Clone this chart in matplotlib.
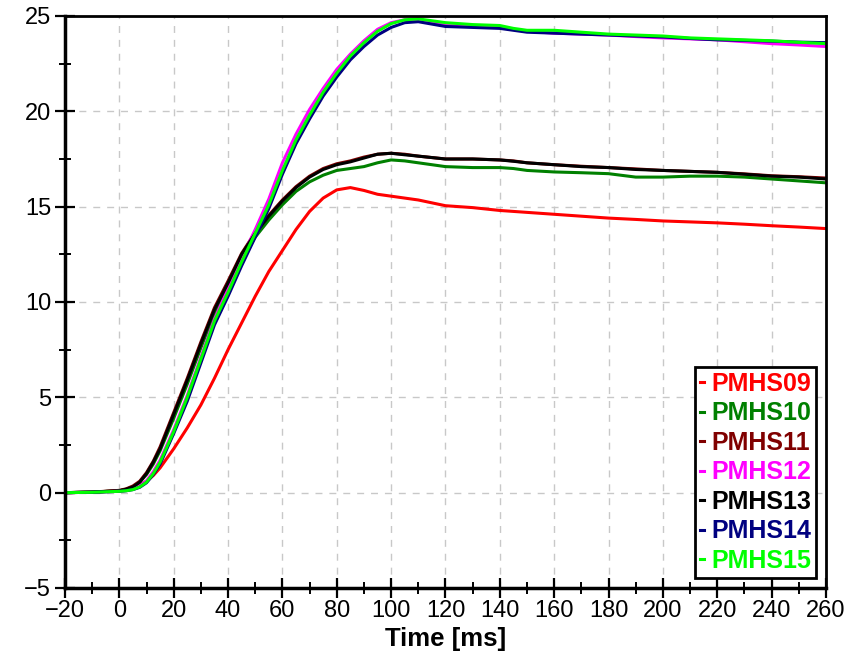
import numpy as np
import matplotlib.pyplot as plt
from matplotlib.ticker import MultipleLocator

# sample times (ms) and curves
t = [-20, -10, 0, 2.5, 5, 7.5, 10, 12.5, 15, 20, 25, 30, 35, 40, 45, 50, 55, 60, 65, 70, 75, 80, 85, 90, 95,
     100, 105, 110, 120, 130, 140, 145, 150, 160, 170, 180, 190, 200, 210, 220, 230, 240, 250, 260]

pmhs09 = [0.0, 0.02, 0.1, 0.16, 0.26, 0.4, 0.6, 0.9, 1.3, 2.3, 3.4, 4.6, 6.0, 7.5, 8.9, 10.3, 11.6, 12.7, 13.8, 14.75, 15.45, 15.88, 16.0, 15.85, 15.65,
          15.55, 15.45, 15.35, 15.05, 14.95, 14.8, 14.75, 14.7, 14.6, 14.5, 14.4, 14.33, 14.25, 14.2, 14.15, 14.08, 14.0, 13.93, 13.85]
pmhs10 = [0.0, 0.03, 0.1, 0.17, 0.3, 0.55, 0.95, 1.5, 2.2, 3.9, 5.7, 7.6, 9.4, 10.9, 12.3, 13.4, 14.3, 15.1, 15.8, 16.3, 16.65, 16.9, 17.0, 17.1, 17.3,
          17.45, 17.4, 17.3, 17.1, 17.05, 17.05, 17.0, 16.9, 16.82, 16.78, 16.73, 16.55, 16.55, 16.6, 16.6, 16.55, 16.45, 16.35, 16.25]
pmhs11 = [0.0, 0.03, 0.12, 0.2, 0.35, 0.6, 1.05, 1.65, 2.4, 4.2, 6.0, 7.9, 9.7, 11.1, 12.55, 13.65, 14.55, 15.35, 16.05, 16.6, 17.0, 17.25, 17.4, 17.6, 17.75,
          17.8, 17.75, 17.65, 17.5, 17.5, 17.45, 17.4, 17.3, 17.2, 17.12, 17.05, 16.98, 16.9, 16.85, 16.8, 16.72, 16.62, 16.57, 16.5]
pmhs12 = [0.0, 0.02, 0.08, 0.12, 0.2, 0.35, 0.62, 1.1, 1.7, 3.3, 5.1, 7.1, 9.1, 10.7, 12.3, 13.8, 15.4, 17.3, 18.8, 20.1, 21.2, 22.2, 23.0, 23.7, 24.3,
          24.65, 24.8, 24.8, 24.5, 24.45, 24.4, 24.3, 24.2, 24.1, 24.05, 24.0, 23.92, 23.85, 23.8, 23.75, 23.65, 23.55, 23.48, 23.4]
pmhs13 = [0.0, 0.03, 0.1, 0.18, 0.3, 0.55, 1.0, 1.6, 2.3, 4.1, 5.9, 7.8, 9.6, 11.0, 12.5, 13.6, 14.5, 15.3, 16.0, 16.55, 16.95, 17.2, 17.35, 17.55, 17.75,
          17.8, 17.72, 17.65, 17.5, 17.5, 17.45, 17.38, 17.3, 17.2, 17.1, 17.05, 16.95, 16.9, 16.85, 16.8, 16.7, 16.6, 16.55, 16.45]
pmhs14 = [0.0, 0.02, 0.07, 0.1, 0.16, 0.28, 0.52, 0.95, 1.5, 3.1, 4.8, 6.8, 8.8, 10.3, 11.9, 13.4, 14.9, 16.7, 18.3, 19.6, 20.8, 21.8, 22.7, 23.4, 24.0,
          24.4, 24.65, 24.7, 24.45, 24.4, 24.35, 24.25, 24.15, 24.1, 24.05, 24.0, 23.95, 23.9, 23.82, 23.75, 23.72, 23.68, 23.63, 23.6]
pmhs15 = [0.0, 0.02, 0.07, 0.1, 0.16, 0.3, 0.55, 1.0, 1.6, 3.2, 5.0, 7.0, 9.0, 10.5, 12.1, 13.6, 15.1, 16.9, 18.5, 19.8, 21.0, 22.0, 22.9, 23.6, 24.2,
          24.6, 24.8, 24.85, 24.65, 24.55, 24.5, 24.35, 24.25, 24.25, 24.15, 24.05, 24.0, 23.95, 23.85, 23.8, 23.75, 23.7, 23.62, 23.55]

labels = ['PMHS09', 'PMHS10', 'PMHS11', 'PMHS12', 'PMHS13', 'PMHS14', 'PMHS15']
colors = ['#ff0000', '#008000', '#800000', '#ff00ff', '#000000', '#000080', '#00ff00']
series = [pmhs09, pmhs10, pmhs11, pmhs12, pmhs13, pmhs14, pmhs15]

plt.rcParams['font.family'] = ['Liberation Sans', 'DejaVu Sans']

fig = plt.figure(figsize=(8.64, 6.58), dpi=100)
ax = fig.add_axes([0.0752, 0.1064, 0.8808, 0.8693])

for y, c, lab in zip(series, colors, labels):
    ax.plot(t, y, color=c, lw=2.2, label=lab)

ax.set_xlim(-20, 260)
ax.set_ylim(-5, 25)
ax.xaxis.set_major_locator(MultipleLocator(20))
ax.xaxis.set_minor_locator(MultipleLocator(10))
ax.yaxis.set_major_locator(MultipleLocator(5))
ax.yaxis.set_minor_locator(MultipleLocator(2.5))
ax.grid(True, which='major', color='#c8c8c8', linestyle=(0, (5, 5)), lw=1)
ax.tick_params(which='major', direction='inout', length=14, width=1.6, labelsize=17)
ax.tick_params(which='minor', direction='inout', length=8, width=1.4)
ax.tick_params(axis='x', pad=2)
ax.tick_params(axis='y', pad=3)
for s in ['left', 'bottom']:
    ax.spines[s].set_linewidth(2.5)
for s in ['top', 'right']:
    ax.spines[s].set_linewidth(2)

ax.set_xlabel('Time [ms]', fontsize=18.5, fontweight='bold', labelpad=3)

leg = ax.legend(loc='lower right', handlelength=0.15, handletextpad=0.3, labelcolor='linecolor',
                prop={'weight': 'bold', 'size': 18}, frameon=True, fancybox=False,
                borderpad=0.2, labelspacing=0.22, borderaxespad=0.4)
leg.get_frame().set_edgecolor('black')
leg.get_frame().set_linewidth(2)
leg.get_frame().set_alpha(1)

fig.savefig('out.png', dpi=100)
